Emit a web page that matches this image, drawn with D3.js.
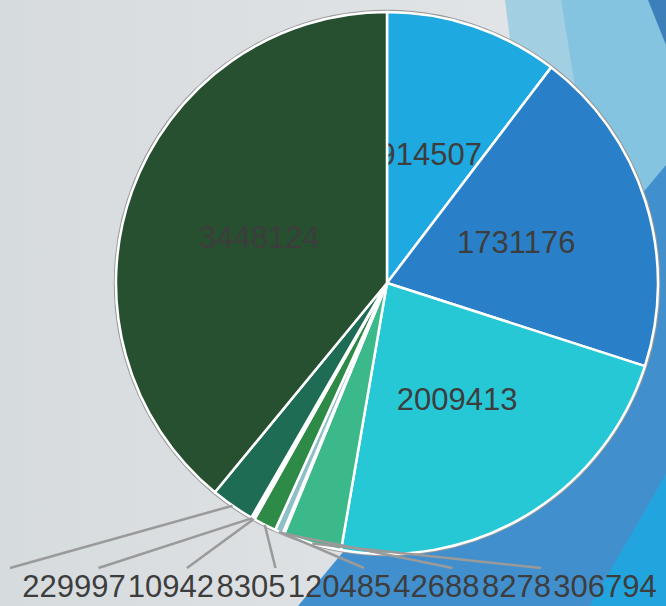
<!DOCTYPE html>
<html>
<head>
<meta charset="utf-8">
<script src="https://cdn.jsdelivr.net/npm/d3@7"></script>
<style>
  html, body { margin: 0; padding: 0; overflow: hidden; }
  svg { display: block; }
</style>
</head>
<body>
<div id="chart"></div>
<script>
const w = 666;
const h = 606;

// slice values, clockwise from 12 o'clock
const values = [914507, 1731176, 2009413, 306794, 8278, 42688, 120485, 8305, 10942, 229997, 3448124];
const colors = ["#1fa9e1", "#2a80c8", "#27c8d6", "#3bb98b", "#a6d6cf", "#8fc0c8", "#2e8b47", "#1d6fa0", "#a8d2d4", "#1f6c55", "#26502f"];
// slices below this get a label under the pie
const smallLimit = 400000;

const svg = d3
  .select("#chart")
  .append("svg")
  .attr("width", w)
  .attr("height", h);

// slide background
const defs = svg.append("defs");
const grad = defs.append("linearGradient").attr("id", "bg").attr("x1", 0).attr("x2", 1).attr("y1", 0).attr("y2", 0);
grad.append("stop").attr("offset", "0%").attr("stop-color", "#d6dbde");
grad.append("stop").attr("offset", "100%").attr("stop-color", "#e5e7e9");
svg.append("rect").attr("width", w).attr("height", h).attr("fill", "url(#bg)");

const shapes = [
  { pts: [[505, 0], [561, 0], [600, 200], [530, 200]], fill: "#a3cfe2" },
  { pts: [[561, 0], [666, 0], [666, 170], [600, 240]], fill: "#84c4e0" },
  { pts: [[648, 0], [666, 0], [666, 45]], fill: "#3d80b9" },
  { pts: [[298, 606], [666, 165], [666, 606]], fill: "#4190cd" },
  { pts: [[590, 606], [666, 474], [666, 606]], fill: "#22a5de" }
];
svg
  .selectAll("polygon.bgshape")
  .data(shapes)
  .join("polygon")
  .attr("class", "bgshape")
  .attr("points", (d) => d.pts.map((p) => p.join(",")).join(" "))
  .attr("fill", (d) => d.fill);

const cx = 387;
const cy = 283;
const r = 271;

const pie = d3.pie().sort(null).value((d) => d);
const arcs = pie(values);
const arc = d3.arc().innerRadius(0).outerRadius(r);
const labelArc = d3.arc().innerRadius(r * 0.5).outerRadius(r * 0.5);

const g = svg.append("g").attr("transform", `translate(${cx}, ${cy})`);

g.append("circle")
  .attr("r", r + 1.5)
  .attr("fill", "none")
  .attr("stroke", "#9a9a9a")
  .attr("stroke-width", 1.5);

const slices = g
  .selectAll("g.slice")
  .data(arcs)
  .join("g")
  .attr("class", "slice");

slices
  .append("path")
  .attr("d", arc)
  .attr("fill", (d, i) => colors[i])
  .attr("stroke", "#ffffff")
  .attr("stroke-width", 2.5)
  .attr("stroke-linejoin", "round");

slices
  .filter((d) => d.value >= smallLimit)
  .append("text")
  .attr("transform", (d) => `translate(${labelArc.centroid(d)})`)
  .attr("text-anchor", "middle")
  .attr("dy", "0.35em")
  .attr("font-family", "Liberation Sans, Arial, sans-serif")
  .attr("font-size", "31px")
  .attr("fill", "#3d3d3d")
  .text((d) => d.value);

// outside labels for the thin slices, laid out along the bottom
const small = arcs.filter((d) => d.value < smallLimit).reverse();
const xEnd = d3
  .scalePoint()
  .domain(small.map((d) => d.index))
  .range([10, 541]);

const midPoint = (d) => {
  const a = (d.startAngle + d.endAngle) / 2;
  return [cx + r * Math.sin(a), cy - r * Math.cos(a)];
};

svg
  .selectAll("line.leader")
  .data(small)
  .join("line")
  .attr("class", "leader")
  .attr("x1", (d) => midPoint(d)[0])
  .attr("y1", (d) => midPoint(d)[1])
  .attr("x2", (d) => xEnd(d.index))
  .attr("y2", 568)
  .attr("stroke", "#9a9a9a")
  .attr("stroke-width", 2.5);

const outside = svg
  .selectAll("text.outside")
  .data(small)
  .join("text")
  .attr("class", "outside")
  .attr("y", 597)
  .attr("font-family", "Liberation Sans, Arial, sans-serif")
  .attr("font-size", "31px")
  .attr("fill", "#3d3d3d")
  .text((d) => d.value);

// place each label near its leader end, pushed right so it doesn't run into the previous one
let prevEnd = -Infinity;
outside.each(function (d) {
  const tw = this.getComputedTextLength();
  const x = Math.max(xEnd(d.index) + 64 - tw / 2, prevEnd + 2);
  d3.select(this).attr("x", x);
  prevEnd = x + tw;
});
</script>
</body>
</html>
